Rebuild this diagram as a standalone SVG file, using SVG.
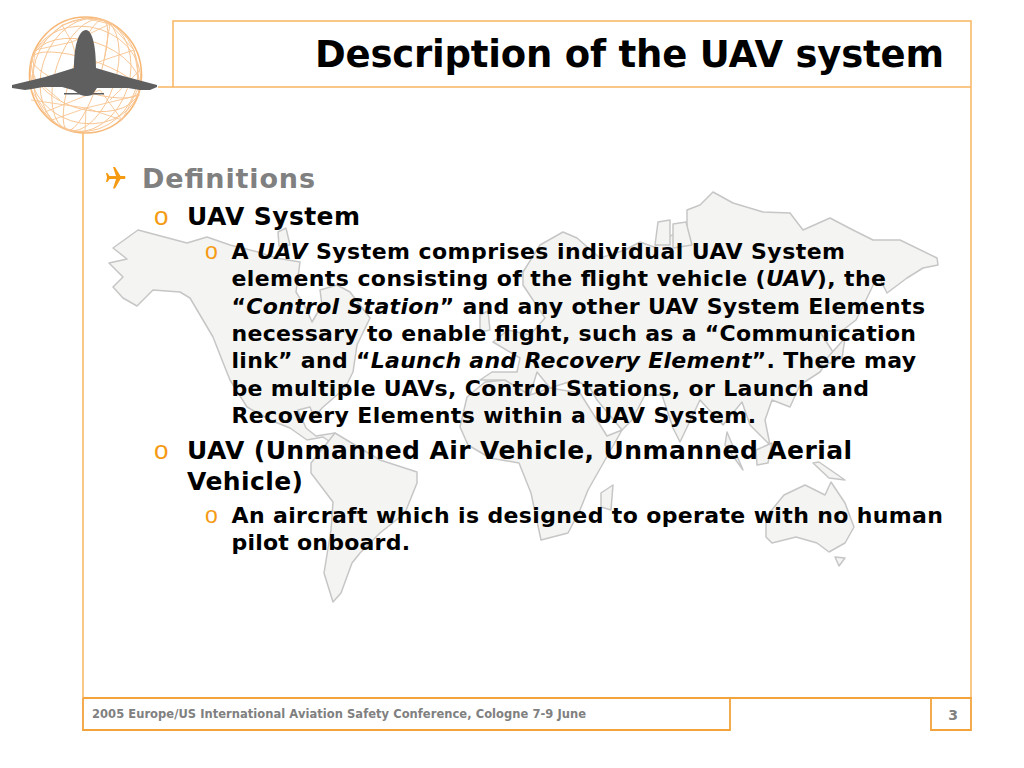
<svg xmlns="http://www.w3.org/2000/svg" width="1024" height="768" viewBox="0 0 1024 768">
<defs>
<style>
text{font-family:"DejaVu Sans","Verdana",sans-serif;font-weight:700;fill:#000}
.t1{font-size:27px;fill:#808080}
.t2{font-size:25px}
.t3{font-size:22px}
.ft{font-size:11.5px;fill:#808080}
.pg{font-size:14px;fill:#808080}
.bl{font-weight:400;fill:#f59a13;font-family:"Liberation Sans",sans-serif}
.land{fill:#f4f4f2;stroke:#c6c6c6;stroke-width:1.5;stroke-linejoin:round}
.frame{fill:none;stroke:#f9b561;stroke-width:1.5}
.foot{fill:none;stroke:#f2a33c;stroke-width:1.8}
.mesh{fill:none;stroke:#f8c592;stroke-width:.9}
.it{font-style:italic}
</style>
</defs>
<rect width="1024" height="768" fill="#fff"/>
<g id="world-map">
<path class="land" d="M138,230L113,248L127,259L109,263L123,277L113,287L123,298L137,306L153,290L180,292L190,298L203,320L213,337L222,360L230,380L247,407L270,420L290,428L307,440L323,437L345,452L335,433L316,436L306,428L298,410L310,407L314,418L322,408L345,388L353,372L357,345L370,318L350,292L337,285L320,290L322,305L312,322L306,308L296,292L300,262L276,258L258,252L230,245L207,237L187,243Z"/>
<path class="land" d="M278,232L286,228L290,245L279,246Z"/>
<path class="land" d="M335,433L380,460L417,472L417,483L405,513L380,533L360,553L352,563L341,593L333,602L324,573L331,530L333,502L311,473L311,463Z"/>
<path class="land" d="M467,397L460,427L468,445L490,458L519,463L531,493L541,540L568,533L580,510L588,490L609,453L622,430L607,436L597,420L580,393L550,388L530,395L505,380L485,382Z"/>
<path class="land" d="M601,507L601,493L613,485L611,510Z"/>
<path class="land" d="M480,380L492,372L517,372L520,358L493,342L508,330L530,335L545,318L523,285L523,272L540,245L563,232L577,238L600,258L625,250L640,242L654,247L687,225L687,210L700,205L713,192L733,203L763,212L790,213L803,230L830,218L853,230L873,240L900,240L937,258L938,265L923,268L907,278L887,293L878,275L866,300L856,320L843,330L820,332L833,352L820,372L800,385L790,407L772,400L765,420L770,445L750,425L742,402L723,425L700,400L680,442L673,428L662,395L645,395L632,420L622,430L597,400L590,388L575,380L550,388L537,372L530,395L505,380Z"/>
<path class="land" d="M480,315L488,311L490,330L480,332Z"/>
<path class="land" d="M655,245L658,222L670,220L670,245Z"/>
<path class="land" d="M673,248L673,224L686,222L692,245Z"/>
<path class="land" d="M837,347L845,338L842,358L818,368Z"/>
<path class="land" d="M727,432L743,470L725,445Z"/>
<path class="land" d="M756,450L772,443L768,463L757,465Z"/>
<path class="land" d="M813,463L819,462L845,480L829,478Z"/>
<path class="land" d="M766,517L784,495L805,485L825,495L831,482L845,503L854,527L845,543L829,552L817,543L796,537L772,543L766,537Z"/>
<path class="land" d="M835,557L845,558L839,566Z"/>
</g>
<g id="frame">
<path class="frame" d="M158,87H971M173,87V21H971V698M83,133V698"/>
</g>
<g id="globe">
<ellipse cx="85.500" cy="75" rx="56" ry="58" fill="#fff" stroke="#f7b877" stroke-width="1.600"/>
<g class="mesh">
<ellipse cx="85.500" cy="75" rx="14" ry="58" transform="rotate(18 85.500 75)"/>
<ellipse cx="85.500" cy="75" rx="30" ry="58" transform="rotate(18 85.500 75)"/>
<ellipse cx="85.500" cy="75" rx="44" ry="58" transform="rotate(18 85.500 75)"/>
<ellipse cx="85.500" cy="75" rx="52" ry="57" transform="rotate(18 85.500 75)"/>
<ellipse cx="85.500" cy="75" rx="56" ry="16" transform="rotate(18 85.500 75)"/>
<ellipse cx="85.500" cy="75" rx="56" ry="34" transform="rotate(18 85.500 75)"/>
<ellipse cx="85.500" cy="75" rx="56" ry="48" transform="rotate(18 85.500 75)"/>
<path d="M35,50L62,25L85,18L110,24L134,50M35,50L72,42L110,24M72,42L62,25M72,42L80,70M110,24L104,60L134,50L140,85M35,50L31,90M80,70L104,60M31,90L52,120M52,120L86,108L122,120M122,120L140,85M86,108L85,132M31,100L86,108L140,95M45,112L100,90L122,120M60,100L30,75M110,100L140,70"/>
</g>
</g>
<g id="plane">
<path fill="#5f5f5f" d="M86,30C92,30 96,45 96,68L123,76L157,85L157,87L150,90L140,90L128,88L97,88L92,95Q86,97 81,95L73,90L62,87L43,87L32,89L25,90L12,88L12,85L45,77L74,68C74,45 79,30 86,30Z"/>
<path fill="#5f5f5f" d="M64,93H104V94.500H64Z"/>
</g>
<g id="title"><text x="315" y="67" font-size="37" textLength="629">Description of the UAV system</text></g>
<g id="content">
<path id="plane-bullet" fill="#f59a13" d="M113,167L115,167L120.500,176H125Q126,177.500 125,179H120.500L115,188.500L113,188.500L116,179H109.500L107.500,182L106,182L107,177.500L106,173L107.500,173L109.500,176H116Z"/>
<text class="t1" x="142" y="187.500" textLength="173">Definitions</text>
<text class="bl" x="154" y="225" font-size="26">o</text>
<text class="t2" x="187" y="225" textLength="173">UAV System</text>
<text class="bl" x="205" y="259" font-size="23">o</text>
<text class="t3" x="231.500" y="259" textLength="613.500">A <tspan class="it">UAV </tspan>System comprises individual UAV System</text>
<text class="t3" x="231.500" y="286" textLength="654.500">elements consisting of the flight vehicle (<tspan class="it">UAV</tspan>), the</text>
<text class="t3" x="231.500" y="313.500" textLength="693.500">“<tspan class="it">Control Station</tspan>” and any other UAV System Elements</text>
<text class="t3" x="231.500" y="341" textLength="684.500">necessary to enable flight, such as a “Communication</text>
<text class="t3" x="231.500" y="368" textLength="684.500">link” and “<tspan class="it">Launch and Recovery Element</tspan>”. There may</text>
<text class="t3" x="231.500" y="395.500" textLength="637.500">be multiple UAVs, Control Stations, or Launch and</text>
<text class="t3" x="231.500" y="423" textLength="524.500">Recovery Elements within a UAV System.</text>
<text class="bl" x="154" y="459" font-size="26">o</text>
<text class="t2" x="187" y="459" textLength="665">UAV (Unmanned Air Vehicle, Unmanned Aerial</text>
<text class="t2" x="187" y="490" textLength="116">Vehicle)</text>
<text class="bl" x="205" y="523" font-size="23">o</text>
<text class="t3" x="231.500" y="523" textLength="711.500">An aircraft which is designed to operate with no human</text>
<text class="t3" x="231.500" y="550" textLength="178.500">pilot onboard.</text>
</g>
<g id="footer">
<path class="foot" d="M83,698H971V730H931V698M83,698V730H730V698"/>
<text class="ft" x="92" y="718" textLength="494">2005 Europe/US International Aviation Safety Conference, Cologne 7-9 June</text>
</g>
<g id="page-number"><text class="pg" x="953" y="720" text-anchor="middle">3</text></g>
</svg>
